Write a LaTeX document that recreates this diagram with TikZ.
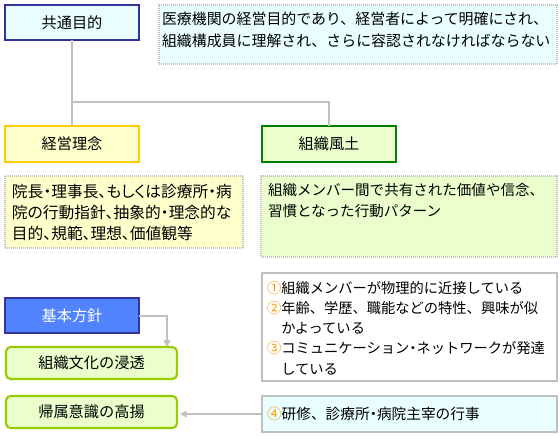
\documentclass[tikz,border=0pt]{standalone}
\usepackage{fontspec}
\newfontfamily\jp[RawFeature=+palt]{Noto Sans CJK JP}
\newfontfamily\jpn{Noto Sans CJK JP}
\usetikzlibrary{arrows.meta,fit}
\definecolor{navy}{HTML}{333399}
\definecolor{cyanfill}{HTML}{E9FFFF}
\definecolor{yelfill}{HTML}{FFFFCC}
\definecolor{grnfill}{HTML}{EAFFCC}
\definecolor{yelline}{HTML}{FFCC00}
\definecolor{grnline}{HTML}{008000}
\definecolor{limeline}{HTML}{99CC00}
\definecolor{bluefill}{HTML}{5283FF}
\definecolor{graylin}{HTML}{C0C0C0}
\definecolor{numc}{HTML}{FF9900}
\newcommand\jpt{\jpn\fontsize{11.4pt}{16pt}\selectfont}
\newcommand\nd{{\jp ・}}
\begin{document}
\begin{tikzpicture}[x=0.75pt,y=-0.75pt,
  every node/.style={inner sep=0pt,outer sep=0pt},
  titlebox/.style={draw, line width=1.5pt, font=\jpt},
  descbox/.style={draw=graylin, line width=1.2pt, dash pattern=on 0.75pt off 0.75pt},
  txt/.style={anchor=north west, align=left, font=\jpt},
  solidbox/.style={draw=graylin, line width=1.6pt},
  roundbox/.style={draw=limeline, line width=1.6pt, rounded corners=3.5pt, fill=grnfill, font=\jpt},
  conn/.style={draw=graylin, line width=1.5pt},
  arr/.style={conn, -{Triangle[length=5pt,width=5pt]}}]
\useasboundingbox[fill=white] (0,0) rectangle (560,436);

% top row
\node[titlebox, draw=navy, fill=cyanfill, fit={(5,5) (139,40)}] (kyotsu) {};
\node[font=\jpt] (kyotsuT) at (kyotsu.center) {共通目的};
\node[descbox, fill=cyanfill, fit={(159,5) (557,64)}] (d1) {};
\node[txt, font=\jpn\fontsize{11.2pt}{16.5pt}\selectfont] (d1T) at (162,12) {医療機関の経営目的であり、経営者によって明確にされ、\\組織構成員に理解され、さらに容認されなければならない};

% second row
\node[titlebox, draw=yelline, fill=yelfill, fit={(5,126) (139,162)}] (keiei) {};
\node[font=\jpt] (keieiT) at (keiei.center) {経営理念};
\node[titlebox, draw=grnline, fill=grnfill, fit={(262,126) (396,162)}] (sosiki) {};
\node[font=\jpt] (sosikiT) at (sosiki.center) {組織風土};

\draw[conn] (kyotsu.south) -- (keiei.north);
\coordinate (jn) at (72,102);
\draw[conn] (jn) -| (sosiki.north);

\node[descbox, fill=yelfill, fit={(5,176) (243,248)}] (d2) {};
\node[txt, font=\jp\fontsize{11.8pt}{15.8pt}\selectfont] (d2T) at (12,184) {院長・理事長、もしくは診療所・病\\院の行動指針、抽象的・理念的な\\目的、規範、理想、価値観等};
\node[descbox, fill=grnfill, fit={(261,176) (557,257)}] (d3) {};
\node[txt, font=\jpn\fontsize{10.9pt}{16.2pt}\selectfont] (d3T) at (268,183) {組織メンバー間で共有された価値や信念、\\習慣となった行動パターン};

% bottom left
\node[titlebox, draw=navy, fill=bluefill, fit={(5,298) (139,333)}] (kihon) {};
\node[font=\jpt, text=white] (kihonT) at (kihon.center) {基本方針};
\node[roundbox, fit={(6,347) (177,379)}] (bunka) {};
\node[font=\jpt] (bunkaT) at (bunka.center) {組織文化の浸透};
\node[roundbox, fit={(6,396) (177,428)}] (kizoku) {};
\node[font=\jpt] (kizokuT) at (kizoku.center) {帰属意識の高揚};

\draw[arr] (kihon.east) -| ([xshift=-7.5pt]bunka.north east);

% bottom right
\node[solidbox, fill=white, fit={(262,273) (557,381)}] (list) {};
\node[txt, font=\jpn\fontsize{10.7pt}{15.2pt}\selectfont] (listT) at (267,281) {\textcolor{numc}{①}組織メンバーが物理的に近接している\\
\textcolor{numc}{②}年齢、学歴、職能などの特性、興味が似\\
\hphantom{②}かよっている\\
\textcolor{numc}{③}コミュニケーション\nd ネットワークが発達\\
\hphantom{③}している};
\node[solidbox, fill=cyanfill, fit={(262,396) (557,432)}] (item4) {};
\node[txt, anchor=west, font=\jpn\fontsize{11pt}{15.2pt}\selectfont] (item4T) at (267,414) {\textcolor{numc}{④}研修、診療所\nd 病院主宰の行事};

\draw[arr, shorten >=2.2pt] (item4.west) -- (item4.west -| kizoku.east);
\end{tikzpicture}
\end{document}
